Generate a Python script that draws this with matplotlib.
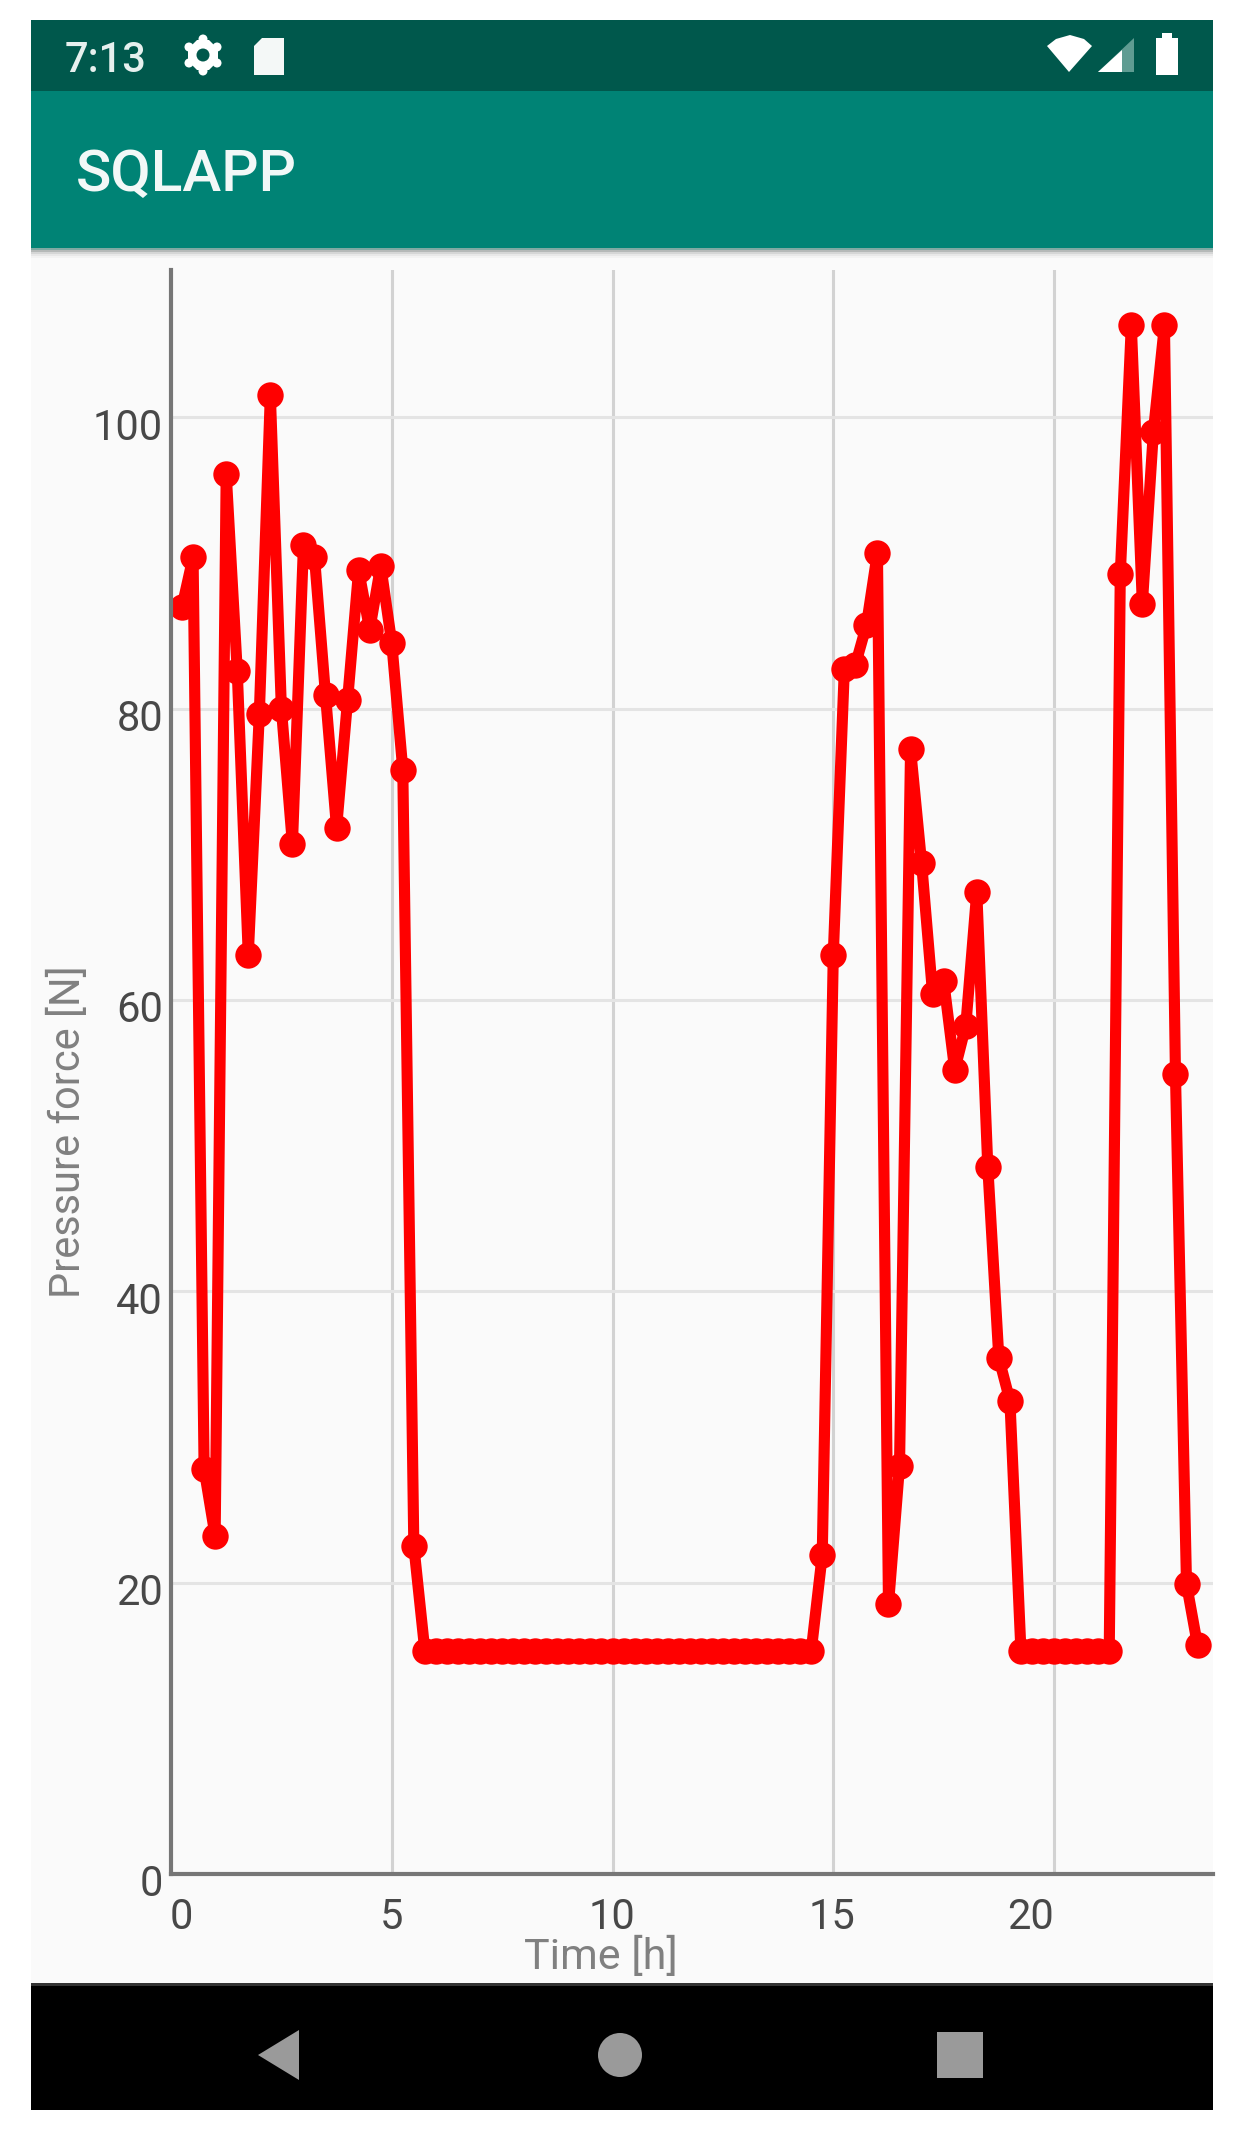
import matplotlib
matplotlib.use('Agg')
import matplotlib.pyplot as plt
from matplotlib.patches import Rectangle, Polygon, Ellipse, Circle

# ── Data ──
time_h = [0.25, 0.5, 0.75, 1.0, 1.25, 1.5, 1.75, 2.0, 2.25, 2.5, 2.75, 3.0,
          3.25, 3.5, 3.75, 4.0, 4.25, 4.5, 4.75, 5.0, 5.25, 5.5, 5.75, 6.0,
          6.25, 6.5, 6.75, 7.0, 7.25, 7.5, 7.75, 8.0, 8.25, 8.5, 8.75, 9.0,
          9.25, 9.5, 9.75, 10.0, 10.25, 10.5, 10.75, 11.0, 11.25, 11.5, 11.75, 12.0,
          12.25, 12.5, 12.75, 13.0, 13.25, 13.5, 13.75, 14.0, 14.25, 14.5, 14.75, 15.0,
          15.25, 15.5, 15.75, 16.0, 16.25, 16.5, 16.75, 17.0, 17.25, 17.5, 17.75, 18.0,
          18.25, 18.5, 18.75, 19.0, 19.25, 19.5, 19.75, 20.0, 20.25, 20.5, 20.75, 21.0,
          21.25, 21.5, 21.75, 22.0, 22.25, 22.5, 22.75, 23.0, 23.25]
force_n = [87.0, 90.4, 27.8, 23.2, 96.1, 82.6, 63.1, 79.6, 101.5, 80.0, 70.7, 91.2,
           90.4, 80.9, 71.8, 80.6, 89.5, 85.4, 89.8, 84.5, 75.8, 22.5, 15.3, 15.3,
           15.3, 15.3, 15.3, 15.3, 15.3, 15.3, 15.3, 15.3, 15.3, 15.3, 15.3, 15.3,
           15.3, 15.3, 15.3, 15.3, 15.3, 15.3, 15.3, 15.3, 15.3, 15.3, 15.3, 15.3,
           15.3, 15.3, 15.3, 15.3, 15.3, 15.3, 15.3, 15.3, 15.3, 15.3, 21.9, 63.1,
           82.7, 83.0, 85.7, 90.7, 18.5, 28.0, 77.2, 69.4, 60.4, 61.3, 55.2, 58.2,
           67.4, 48.5, 35.4, 32.5, 15.3, 15.3, 15.3, 15.3, 15.3, 15.3, 15.3, 15.3,
           15.3, 89.2, 106.3, 87.2, 99.0, 106.3, 54.9, 19.9, 15.7]
x_ticks = [0, 5, 10, 15, 20]
y_ticks = [0, 20, 40, 60, 80, 100]

W, H = 1247, 2137
plt.rcParams['font.family'] = ['Roboto', 'DejaVu Sans']
fig = plt.figure(figsize=(W / 100, H / 100), dpi=100, facecolor='white')

# ── Phone chrome, in pixel coordinates ──
bg = fig.add_axes([0, 0, 1, 1])
bg.set_xlim(0, W)
bg.set_ylim(H, 0)
bg.axis('off')

def box(x0, y0, x1, y1, color, z=1):
    bg.add_patch(Rectangle((x0, y0), x1 - x0, y1 - y0, color=color, lw=0, zorder=z))

box(31, 20, 1213, 91, '#00584C')
box(31, 91, 1213, 248, '#008375')
box(31, 248, 1213, 1983, '#FAFAFA')
for i, c in enumerate(['#7FA9A3', '#B5B9B8', '#D5D6D6', '#E8E8E8', '#F3F3F3']):
    box(31, 248 + i * 2, 1213, 250 + i * 2, c, 2)
box(31, 1983, 1213, 2110, 'black')
box(31, 1983, 1213, 1986, '#333333', 2)

bg.text(65, 60, '7:13', color='#E6F0EE', fontsize=30, va='center', ha='left', fontweight='medium')
bg.text(76, 175, 'SQLAPP', color='#F2F8F7', fontsize=42, va='center', ha='left', fontweight='medium')

# status bar icons
bg.plot([203], [55], marker='8', ms=24, color='white', mew=0, zorder=3)
for dx, dy in [(0, -16), (0, 16), (-14, -8), (14, -8), (-14, 8), (14, 8)]:
    bg.add_patch(Circle((203 + dx, 55 + dy), 4.5, color='white', lw=0, zorder=3))
bg.add_patch(Circle((203, 55), 6.5, color='#00584C', lw=0, zorder=4))
bg.add_patch(Polygon([(262, 38), (284, 38), (284, 75), (254, 75), (254, 46)], color='#F4F8F7', lw=0, zorder=3))
bg.add_patch(Polygon([(1047, 46), (1056, 39), (1070, 35), (1084, 39), (1092, 46), (1069, 72)],
                     color='white', lw=0, zorder=3))
bg.add_patch(Polygon([(1134, 38), (1134, 72), (1098, 72)], color='#5F9C92', lw=0, zorder=3))
bg.add_patch(Polygon([(1122, 50), (1122, 72), (1098, 72)], color='white', lw=0, zorder=4))
box(1156, 38, 1178, 75, 'white', 3)
box(1162, 33, 1172, 38, 'white', 3)

# navigation bar icons
bg.add_patch(Polygon([(299, 2030), (299, 2080), (258, 2055)], color='#9A9A9A', lw=0, zorder=3))
bg.add_patch(Ellipse((620, 2055), 44, 44, color='#9A9A9A', lw=0, zorder=3))
box(937, 2032, 983, 2078, '#9A9A9A', 3)

# ── Chart ──
ax = fig.add_axes([171 / W, 1 - 1874 / H, (1213 - 171) / W, (1874 - 270) / H])
ax.patch.set_alpha(0)
ax.set_xlim(0, 23.6)
ax.set_ylim(0, 110.1)
for name in ['top', 'right']:
    ax.spines[name].set_visible(False)
for name in ['left', 'bottom']:
    ax.spines[name].set_color('#767676')
    ax.spines[name].set_linewidth(3)
ax.set_xticks(x_ticks[1:])
ax.set_yticks(y_ticks[1:])
ax.tick_params(length=0, labelbottom=False, labelleft=False)
ax.grid(True, axis='x', color='#D2D2D2', lw=2.2)
ax.grid(True, axis='y', color='#E4E4E4', lw=2.2)
ax.set_axisbelow(True)

ax.plot(time_h, force_n, color='#FF0000', lw=8, marker='o', ms=19, mew=0,
        solid_joinstyle='round')

# tick labels: the app draws them off the tick, "0" and "20" most of all
x_label_shift = {0: 10, 5: 0, 10: -1, 15: -1, 20: -24}
for t in x_ticks:
    ax.annotate(str(t), xy=(t, 0), xytext=(x_label_shift[t] / 1.389, -44 / 1.389),
                textcoords='offset points', ha='center', va='center',
                fontsize=30, color='#484848', annotation_clip=False)
for v in y_ticks:
    ax.annotate(str(v), xy=(0, v), xytext=(-8 / 1.389, -11 / 1.389),
                textcoords='offset points', ha='right', va='center',
                fontsize=30, color='#484848', annotation_clip=False)

bg.text(601, 1957, 'Time [h]', color='#808080', fontsize=31, ha='center', va='center')
bg.text(68, 1132, 'Pressure force [N]', color='#808080', fontsize=30, rotation=90,
        ha='center', va='center')

fig.savefig('out.png', dpi=100)
